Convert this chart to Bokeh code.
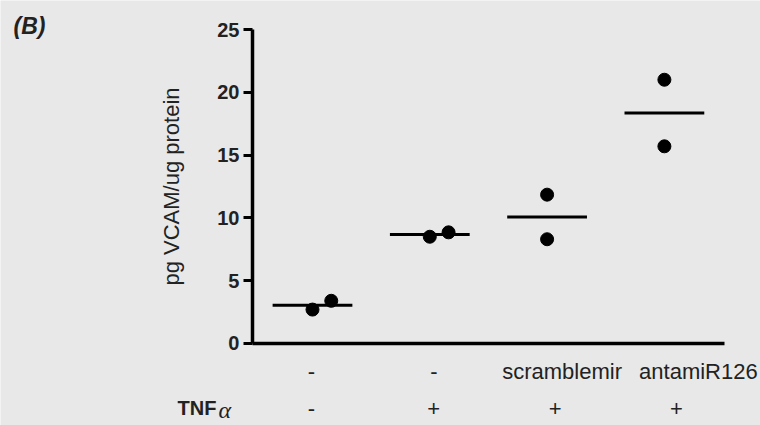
from bokeh.plotting import figure
from bokeh.models import Range1d, ColumnDataSource, Label, FixedTicker, LinearAxis
from bokeh.core.properties import value
from bokeh.embed import file_html
from bokeh.resources import INLINE

# ---- data ----
groups = [1, 2, 3, 4]
rep1 = [2.7, 8.5, 11.85, 21.0]
rep2 = [3.4, 8.85, 8.3, 15.7]
row1_labels = ["-", "-", "scramblemir", "antamiR126"]
row2_labels = ["-", "+", "+", "+"]
y_ticks = [0, 5, 10, 15, 20, 25]
y_title = "pg VCAM/ug protein"
row2_title = "TNF"
panel_tag = "(B)"

# ---- layout / style ----
BG = "#e8e8e8"
TXT = "#222222"
FONT = "Liberation Sans"
X_AXIS_AT = 0.4885          # where the y axis crosses (x units)
X_END = 4.51
jitter2 = [0.16, 0.16, 0.0, 0.0]
row1_dx = [-1, 4, 15, 34]
row2_dx = [-1, 4, 8, 12]
half_w = 0.34

p = figure(width=760, height=425, output_backend="svg", toolbar_location=None,
           x_range=Range1d(-1.6598, 4.8193), y_range=Range1d(-6.529, 27.309),
           x_axis_type=None, y_axis_type=None,
           min_border_left=0, min_border_right=0, min_border_top=0, min_border_bottom=0)
p.background_fill_color = BG
p.border_fill_color = BG
p.outline_line_color = None
p.grid.grid_line_color = None

# y axis
ya = LinearAxis(fixed_location=X_AXIS_AT, bounds=(0, 25), ticker=FixedTicker(ticks=y_ticks))
ya.minor_tick_line_color = None
ya.major_tick_in = 0
ya.major_tick_out = 9
ya.major_tick_line_width = 3
ya.axis_line_width = 3.5
ya.axis_line_color = "black"
ya.major_tick_line_color = "black"
ya.major_label_text_font = FONT
ya.major_label_text_font_style = "bold"
ya.major_label_text_font_size = "20px"
ya.major_label_text_color = TXT
ya.major_label_standoff = 4
ya.axis_label = y_title
ya.axis_label_text_font = FONT
ya.axis_label_text_font_style = "normal"
ya.axis_label_text_font_size = "22px"
ya.axis_label_text_color = TXT
ya.axis_label_standoff = 30
p.add_layout(ya, "left")

# x axis: line only
xa = LinearAxis(fixed_location=0, bounds=(X_AXIS_AT, X_END), ticker=FixedTicker(ticks=[]))
xa.minor_tick_line_color = None
xa.major_tick_line_color = None
xa.major_label_text_font_size = "0px"
xa.axis_line_width = 3.5
xa.axis_line_color = "black"
p.add_layout(xa, "below")

# points
x1 = list(groups)
x2 = [g + j for g, j in zip(groups, jitter2)]
p.scatter(x1 + x2, rep1 + rep2, size=13, color="black")

# means
means = [(a + b) / 2 for a, b in zip(rep1, rep2)]
p.segment(x0=[g - half_w for g in groups], x1=[g + half_w for g in groups],
          y0=means, y1=means, line_width=3, line_color="black")

# category label rows
src1 = ColumnDataSource(dict(x=groups, y=[0] * 4, t=row1_labels, dx=row1_dx))
src2 = ColumnDataSource(dict(x=groups, y=[0] * 4, t=row2_labels, dx=row2_dx))
for src, yoff in ((src1, 28), (src2, 65)):
    p.text(x="x", y="y", text="t", source=src, x_offset="dx", y_offset=yoff,
           text_align="center", text_baseline="middle",
           text_font=value(FONT), text_font_size=value("22px"), text_color=TXT)

p.add_layout(Label(x=X_AXIS_AT, y=0, x_offset=-75, y_offset=-65, text=row2_title,
                   text_align="left", text_baseline="middle", text_font=FONT,
                   text_font_style="bold", text_font_size="20px", text_color=TXT))
p.add_layout(Label(x=X_AXIS_AT, y=0, x_offset=-34, y_offset=-67, text="\u03b1",
                   text_align="left", text_baseline="middle", text_font="Liberation Serif",
                   text_font_style="italic", text_font_size="24px", text_color=TXT))
p.add_layout(Label(x=X_AXIS_AT, y=25, x_offset=-239, y_offset=4, text=panel_tag,
                   text_align="left", text_baseline="middle", text_font=FONT,
                   text_font_style="bold italic", text_font_size="23px", text_color=TXT))

open("out.html", "w").write(file_html(p, INLINE))
